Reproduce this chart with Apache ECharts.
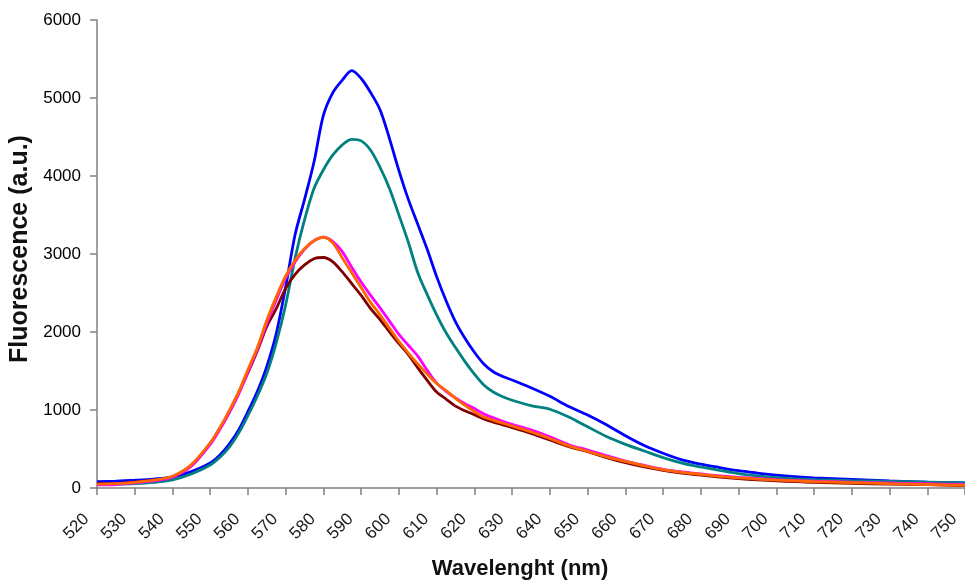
<!DOCTYPE html>
<html>
<head>
<meta charset="utf-8">
<script src="https://cdn.jsdelivr.net/npm/echarts@6/dist/echarts.min.js"></script>
<style>
html,body{margin:0;padding:0;background:#fff;}
#chart{width:965px;height:585px;}
</style>
</head>
<body>
<div id="chart"></div>
<script>
// Wavelength grid (nm)
var wavelengths = [520,525,530,535,540,545,550,552.5,555,557.5,560,562.5,565,567.5,570,572.5,575,577.5,580,582.5,585,587.5,590,592.5,595,597.5,600,602.5,605,607.5,610,612.5,615,617.5,620,622.5,625,627.5,630,635,640,645,650,655,660,665,670,675,680,685,690,695,700,705,710,720,730,740,750];

var blueSeries = [80,88,100,115,140,210,320,420,560,740,980,1240,1560,1980,2580,3250,3700,4180,4780,5070,5230,5350,5250,5070,4850,4480,4070,3700,3380,3060,2710,2400,2130,1920,1740,1590,1490,1430,1385,1285,1175,1045,935,810,670,545,445,360,305,262,222,192,165,145,130,110,90,76,64];

var tealSeries = [45,48,55,72,105,180,295,390,520,700,930,1180,1470,1860,2350,2950,3440,3840,4080,4270,4400,4470,4450,4330,4110,3840,3500,3150,2760,2480,2220,1990,1800,1620,1460,1320,1230,1170,1125,1055,1010,910,785,660,560,475,390,320,270,225,185,155,132,118,108,95,85,75,65];

var darkRedSeries = [55,58,75,100,145,290,570,760,970,1220,1480,1760,2070,2300,2560,2740,2860,2940,2955,2900,2770,2620,2470,2300,2160,2000,1850,1710,1540,1380,1230,1140,1050,990,940,885,845,810,775,700,615,530,466,390,325,270,225,190,165,140,120,105,92,82,72,60,50,42,32];

var magentaSeries = [40,45,65,92,140,280,560,745,960,1200,1490,1780,2110,2410,2690,2900,3060,3170,3215,3160,3030,2830,2640,2470,2310,2140,1970,1830,1690,1510,1345,1240,1155,1080,1020,950,900,855,815,745,655,555,487,415,345,290,240,205,180,155,137,122,108,96,88,75,65,55,45];

var orangeSeries = [50,55,72,100,150,300,580,770,990,1230,1520,1800,2150,2450,2720,2920,3070,3170,3215,3140,2950,2760,2570,2380,2220,2050,1880,1730,1590,1460,1340,1250,1150,1060,980,910,870,830,795,720,635,540,470,400,340,285,235,200,175,150,130,115,102,92,82,68,55,45,35];

var seriesDefs = [
  {name:'S1', data: blueSeries, color:'#0000FF'},
  {name:'S2', data: tealSeries, color:'#008080'},
  {name:'S3', data: darkRedSeries, color:'#800000'},
  {name:'S4', data: magentaSeries, color:'#FF00FF'},
  {name:'S5', data: orangeSeries, color:'#FF6600'}
];

var xAxisName = 'Wavelenght (nm)';
var yAxisName = 'Fluorescence (a.u.)';

function zip(xs, ys){ return xs.map(function(x,i){ return [x, ys[i]]; }); }

var chart = echarts.init(document.getElementById('chart'), null, {renderer:'canvas'});
chart.setOption({
  animation:false,
  backgroundColor:'#ffffff',
  grid:{left:97, right:0, top:20, bottom:97, containLabel:false, outerBoundsMode:'none'},
  xAxis:{
    type:'value', min:520, max:750, interval:10,
    name:xAxisName, nameLocation:'middle', nameGap:70,
    nameTextStyle:{fontFamily:'Liberation Sans', fontSize:22, fontWeight:'bold', color:'#111', padding:[0,22,0,0]},
    axisLine:{show:true, onZero:false, lineStyle:{color:'#808080', width:1.5}},
    axisTick:{show:true, inside:false, length:7, lineStyle:{color:'#808080', width:1.5}},
    axisLabel:{rotate:45, margin:18, padding:[0,15,0,0], fontFamily:'Liberation Sans', fontSize:17, color:'#1a1a1a', showMaxLabel:true, showMinLabel:true},
    splitLine:{show:false}
  },
  yAxis:{
    type:'value', min:0, max:6000, interval:1000,
    name:yAxisName, nameLocation:'middle', nameGap:56,
    nameTextStyle:{fontFamily:'Liberation Sans', fontSize:25, fontWeight:'bold', color:'#111', padding:[0,0,0,10]},
    axisLine:{show:true, lineStyle:{color:'#808080', width:1.5}},
    axisTick:{show:true, inside:false, length:7, lineStyle:{color:'#808080', width:1.5}},
    axisLabel:{margin:16, fontFamily:'Liberation Sans', fontSize:17, color:'#000', formatter:function(v){ return String(v); }},
    splitLine:{show:false}
  },
  series: seriesDefs.map(function(s){
    return {
      name:s.name, type:'line', data:zip(wavelengths, s.data),
      showSymbol:false, smooth:0.3,
      lineStyle:{color:s.color, width:2.8},
      itemStyle:{color:s.color}
    };
  })
});
</script>
</body>
</html>
